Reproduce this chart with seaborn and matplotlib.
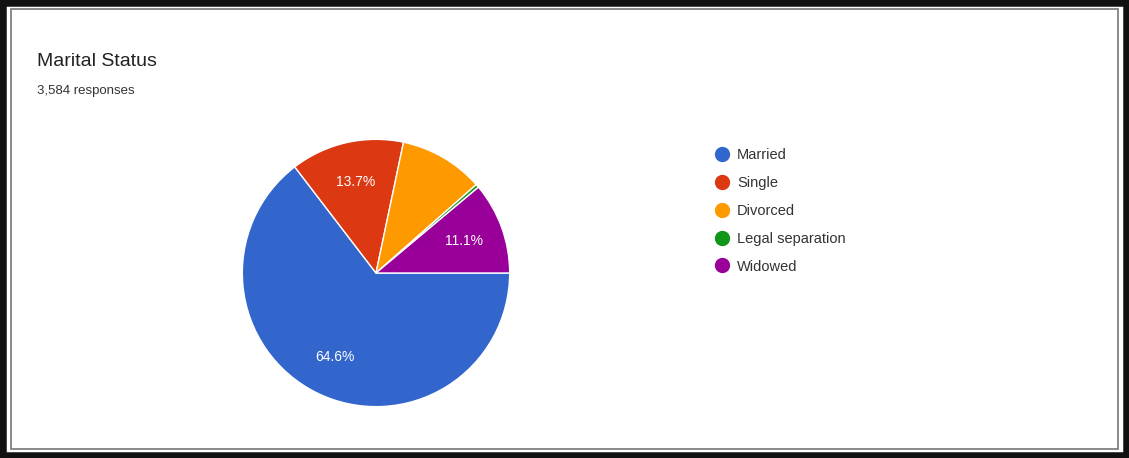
import matplotlib
matplotlib.use("Agg")
import matplotlib.pyplot as plt
import seaborn as sns
from matplotlib.patches import Rectangle
from matplotlib.lines import Line2D

# data
categories = ['Married', 'Single', 'Divorced', 'Legal separation', 'Widowed']
shares = [64.6, 13.7, 10.2, 0.4, 11.1]
colors = ['#3366cc', '#dc3912', '#ff9900', '#109618', '#990099']
title = 'Marital Status'
subtitle = '3,584 responses'

sns.set_theme(style='white')
plt.rcParams['font.family'] = ['Liberation Sans', 'DejaVu Sans']

fig = plt.figure(figsize=(11.29, 4.58), dpi=100)
fig.patch.set_facecolor('white')

# pie axes placed so the circle sits left of centre
ax = fig.add_axes([241 / 1129, 50 / 458, 270 / 1129, 270 / 458])
wedges, texts, autotexts = ax.pie(
    shares,
    colors=sns.color_palette(colors),
    startangle=0,
    counterclock=False,
    autopct=lambda p: f'{p:.1f}%' if p >= 11 else '',
    pctdistance=0.7,
    wedgeprops=dict(edgecolor='white', linewidth=1),
    textprops=dict(color='white', fontsize=10),
)
ax.set_xlim(-1.01, 1.01)
ax.set_ylim(-1.01, 1.01)
ax.set_aspect('equal')
ax.axis('off')

fig.text(37 / 1129, 1 - 66 / 458, title, fontsize=14, color='#222222')
fig.text(37 / 1129, 1 - 94 / 458, subtitle, fontsize=9.5, color='#333333')

handles = [Line2D([0], [0], marker='o', linestyle='', markersize=10,
                  markerfacecolor=c, markeredgecolor=c) for c in colors]
fig.legend(handles, categories, loc='upper left',
           bbox_to_anchor=(700 / 1129, 1 - 135 / 458),
           frameon=False, fontsize=10.5, labelspacing=0.95,
           handletextpad=0.45, handlelength=1.2, labelcolor='#333333')

# screenshot frame
fig.patches.append(Rectangle((0, 0), 1, 1, transform=fig.transFigure,
                             fill=False, lw=9, ec='#111111'))
fig.patches.append(Rectangle((11 / 1129, 9 / 458), 1 - 22 / 1129, 1 - 18 / 458,
                             transform=fig.transFigure, fill=False,
                             lw=1.2, ec='#777777'))

fig.savefig('out.png', dpi=100)
